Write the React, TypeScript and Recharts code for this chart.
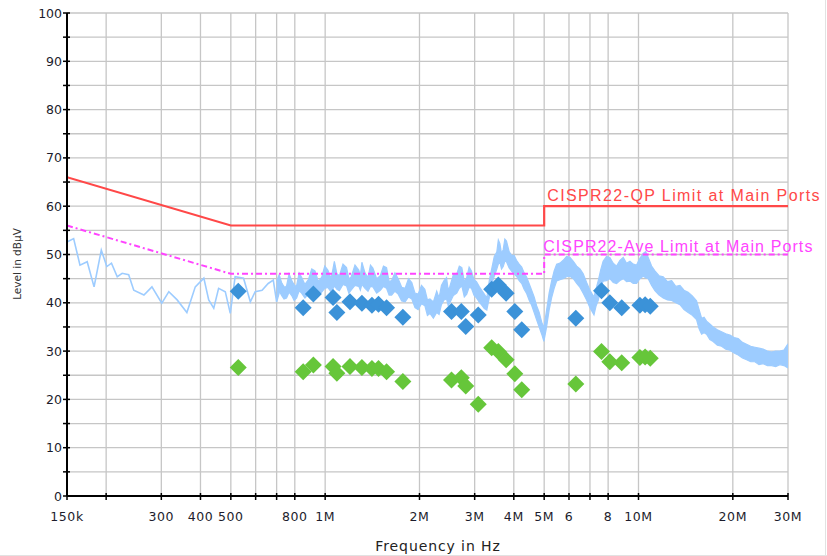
import React from 'react';
import { ComposedChart, XAxis, YAxis, CartesianGrid, Line, Area, Scatter, LabelList } from 'recharts';

// Axis ticks
const xTickValues = [150000, 200000, 300000, 400000, 500000, 600000, 700000, 800000, 1000000, 2000000, 3000000, 4000000, 5000000, 6000000, 7000000, 8000000, 10000000, 20000000, 30000000];
const xTickLabels = ['150k', '', '300', '400', '500', '', '', '800', '1M', '2M', '3M', '4M', '5M', '6', '', '8', '10M', '20M', '30M'];
const yTickValues = [0, 5, 10, 15, 20, 25, 30, 35, 40, 45, 50, 55, 60, 65, 70, 75, 80, 85, 90, 95, 100];
const yTickLabels = ['0', '', '10', '', '20', '', '30', '', '40', '', '50', '', '60', '', '70', '', '80', '', '90', '', '100'];

// Limit lines
const limitFreqs = [150000, 500000, 5000000, 5000000, 30000000];
const qpLimit = [66, 56, 56, 60, 60];
const aveLimit = [56, 46, 46, 50, 50];
const qpLimitName = 'CISPR22-QP Limit at Main Ports';
const aveLimitName = 'CISPR22-Ave Limit at Main Ports';

// Final measurements
const measFreqs = [528000, 851000, 917000, 1060000, 1090000, 1200000, 1310000, 1410000, 1480000, 1570000, 1770000, 2530000, 2720000, 2810000, 3080000, 3400000, 3570000, 3780000, 4030000, 4240000, 6310000, 7620000, 8100000, 8840000, 10100000, 10500000, 10900000];
const qpMeas = [42.4, 39.0, 41.8, 41.1, 38.0, 40.2, 39.9, 39.5, 39.7, 39.0, 37.0, 38.2, 38.2, 35.1, 37.5, 42.8, 43.7, 42.0, 38.2, 34.4, 36.8, 42.5, 40.0, 39.0, 39.5, 39.6, 39.3];
const avMeas = [26.6, 25.7, 27.1, 26.8, 25.4, 26.8, 26.6, 26.4, 26.4, 25.7, 23.7, 24.0, 24.5, 22.8, 19.0, 30.7, 29.9, 28.2, 25.3, 22.0, 23.2, 29.9, 27.8, 27.6, 28.7, 28.8, 28.5];

// Preview scan, low-frequency part (line)
const traceFreqs = [150000, 157500, 165000, 174000, 183000, 193000, 201000, 208000, 217000, 225000, 236000, 245000, 264000, 280000, 301000, 317000, 337000, 362000, 385000, 410000, 425000, 441000, 457000, 480000, 498000, 516000, 549000, 577000, 598000, 629000, 658000, 683000, 700000, 726000, 753000, 782000, 811000];
const traceLevels = [52.6, 53.3, 47.8, 48.5, 43.3, 50.9, 47.5, 48.2, 45.4, 46.1, 45.8, 42.6, 41.6, 43.3, 39.9, 42.3, 40.6, 38.0, 43.3, 45.1, 40.6, 38.9, 43.0, 42.3, 37.8, 45.4, 45.1, 40.2, 42.3, 42.6, 44.0, 44.7, 40.2, 44.0, 42.6, 44.4, 43.0];

// Preview scan, dense part (envelope of the noise band)
const bandFreqs = [700000, 713000, 726000, 739000, 753000, 767000, 782000, 796000, 811000, 826000, 841000, 862000, 884000, 906000, 928000, 951000, 975000, 997000, 1020000, 1045000, 1070000, 1090000, 1110000, 1140000, 1170000, 1190000, 1210000, 1245000, 1280000, 1295000, 1310000, 1340000, 1370000, 1395000, 1420000, 1460000, 1500000, 1535000, 1570000, 1600000, 1630000, 1670000, 1710000, 1755000, 1800000, 1845000, 1890000, 1935000, 1980000, 2030000, 2080000, 2120000, 2160000, 2215000, 2270000, 2310000, 2350000, 2395000, 2440000, 2470000, 2500000, 2565000, 2630000, 2680000, 2730000, 2780000, 2830000, 2880000, 2930000, 2985000, 3040000, 3100000, 3160000, 3220000, 3280000, 3340000, 3400000, 3465000, 3530000, 3570000, 3610000, 3655000, 3700000, 3745000, 3790000, 3865000, 3940000, 4010000, 4080000, 4160000, 4240000, 4315000, 4390000, 4475000, 4560000, 4645000, 4730000, 4820000, 4910000, 4990000, 5090000, 5185000, 5280000, 5380000, 5480000, 5615000, 5750000, 5895000, 6040000, 6195000, 6350000, 6505000, 6660000, 6830000, 7000000, 7210000, 7325000, 7440000, 7575000, 7710000, 7905000, 8100000, 8305000, 8510000, 8725000, 8940000, 9160000, 9390000, 9620000, 9860000, 10100000, 10350000, 10540000, 10740000, 11010000, 11280000, 11630000, 11990000, 12370000, 12760000, 13150000, 13560000, 13970000, 14400000, 14850000, 15320000, 15610000, 15900000, 16190000, 16490000, 16890000, 17310000, 17850000, 18410000, 18990000, 19580000, 20190000, 20810000, 21460000, 22130000, 22810000, 23520000, 24240000, 24990000, 25780000, 26590000, 27410000, 28260000, 29120000, 30000000];
const bandLow = [40.5, 42.5, 41.5, 40.8, 41.0, 42.2, 41.5, 40.5, 41.0, 42.5, 42.0, 41.0, 41.8, 42.6, 43.0, 41.6, 42.2, 43.0, 43.2, 42.2, 43.5, 42.8, 42.5, 43.8, 43.5, 42.0, 42.6, 43.6, 43.4, 42.6, 43.8, 43.0, 42.4, 43.4, 43.3, 42.0, 42.6, 43.4, 43.0, 41.6, 41.6, 42.4, 41.8, 40.4, 40.2, 41.2, 40.8, 39.0, 38.6, 39.8, 39.4, 37.4, 37.8, 36.8, 38.0, 37.6, 39.6, 40.6, 40.8, 39.4, 40.0, 41.5, 42.0, 43.0, 43.5, 41.2, 41.8, 43.2, 43.0, 41.6, 41.0, 40.2, 39.5, 38.8, 38.5, 41.0, 44.0, 45.5, 47.0, 48.0, 48.5, 47.0, 47.5, 48.6, 48.5, 47.2, 46.5, 46.0, 45.5, 44.6, 44.0, 42.8, 42.0, 40.6, 39.5, 38.0, 36.5, 35.0, 33.5, 32.0, 35.0, 38.5, 41.0, 43.0, 44.5, 44.8, 45.0, 45.4, 45.5, 45.0, 44.0, 43.2, 42.0, 40.6, 39.0, 37.5, 39.4, 40.5, 43.0, 44.5, 44.6, 45.0, 44.2, 44.0, 44.6, 45.0, 44.4, 44.5, 44.0, 44.0, 45.0, 45.5, 45.2, 45.0, 43.6, 42.5, 41.6, 41.0, 40.6, 40.5, 40.0, 39.6, 38.6, 38.0, 37.4, 36.5, 34.6, 33.5, 33.8, 33.5, 32.4, 32.0, 31.2, 31.0, 30.4, 30.2, 29.6, 29.2, 28.6, 28.2, 27.8, 27.8, 27.2, 27.4, 27.0, 27.0, 26.8, 27.2, 27.0, 26.5];
const bandHigh = [44.5, 45.8, 44.2, 43.0, 43.5, 46.0, 44.6, 43.2, 43.6, 46.2, 45.3, 43.8, 44.8, 47.0, 46.6, 44.4, 45.3, 47.6, 46.8, 45.0, 48.6, 46.0, 45.6, 48.0, 47.3, 45.0, 45.3, 47.8, 46.8, 45.6, 48.4, 46.2, 45.2, 47.8, 47.2, 45.0, 45.6, 47.6, 47.3, 44.4, 44.6, 46.2, 45.0, 43.2, 43.0, 45.0, 44.2, 42.0, 41.8, 43.6, 42.8, 40.6, 40.8, 40.2, 42.4, 41.0, 43.6, 44.6, 45.2, 42.6, 43.4, 45.8, 46.0, 47.6, 47.3, 44.4, 45.2, 47.4, 46.6, 44.8, 44.4, 43.4, 42.6, 41.8, 41.0, 44.6, 47.0, 49.6, 50.5, 53.0, 52.3, 50.2, 51.0, 53.2, 52.8, 50.6, 49.8, 49.8, 48.8, 48.0, 47.4, 46.2, 45.4, 44.0, 42.6, 41.2, 39.4, 38.0, 36.0, 34.8, 38.5, 42.0, 44.5, 46.6, 48.0, 48.2, 48.8, 49.6, 49.4, 48.6, 47.6, 47.0, 46.0, 44.2, 42.6, 41.2, 43.0, 44.6, 46.8, 48.6, 49.6, 49.4, 48.2, 47.6, 48.8, 49.4, 48.2, 48.6, 48.0, 47.8, 49.2, 50.2, 50.6, 49.4, 47.6, 46.6, 45.6, 45.4, 44.4, 44.6, 43.4, 43.6, 42.6, 42.2, 41.4, 40.4, 38.6, 36.8, 37.0, 36.2, 35.6, 35.0, 34.4, 34.0, 33.6, 33.3, 32.8, 32.6, 31.8, 31.4, 31.0, 30.8, 30.6, 30.4, 30.0, 29.8, 30.0, 30.0, 30.2, 31.5];

const traceData = traceFreqs.map((f, i) => ({ f, v: traceLevels[i] }));
const bandData = bandFreqs.map((f, i) => ({ f, r: [bandLow[i], bandHigh[i]] }));
const qpLimitData = limitFreqs.map((f, i) => ({ f, v: qpLimit[i] }));
const aveLimitData = limitFreqs.map((f, i) => ({ f, v: aveLimit[i] }));
const qpMeasData = measFreqs.map((f, i) => ({ f, v: qpMeas[i] }));
const avMeasData = measFreqs.map((f, i) => ({ f, v: avMeas[i] }));

const TICK_FONT = 'DejaVu Sans, Verdana, sans-serif';

const XTick = (props: any) => {
  const { x, y, payload } = props;
  const idx = xTickValues.indexOf(payload.value);
  const label = idx >= 0 ? xTickLabels[idx] : '';
  return (
    <g>
      <line x1={x} x2={x} y1={y - 3} y2={y + 4} stroke="#000" strokeWidth={1.5} />
      {label ? (
        <text x={x} y={y + 25} textAnchor="middle" fontSize={12.5} fontFamily={TICK_FONT} fill="#1c1c2c" letterSpacing={0.6}>
          {label}
        </text>
      ) : null}
    </g>
  );
};

const YTick = (props: any) => {
  const { x, y, payload } = props;
  const idx = yTickValues.indexOf(payload.value);
  const label = idx >= 0 ? yTickLabels[idx] : '';
  return (
    <g>
      <line x1={x - 4} x2={x + 3} y1={y} y2={y} stroke="#000" strokeWidth={1.5} />
      {label ? (
        <text x={x - 5} y={y + 4.5} textAnchor="end" fontSize={12.5} fontFamily={TICK_FONT} fill="#1c1c2c">
          {label}
        </text>
      ) : null}
    </g>
  );
};

const YLabel = () => (
  <text x={21} y={264} transform="rotate(-90 21 264)" textAnchor="middle" fontSize={10.5} fontFamily={TICK_FONT} fill="#333">
    Level in dBµV
  </text>
);

const XLabel = () => (
  <text x={438} y={551} textAnchor="middle" fontSize={14} fontFamily={TICK_FONT} fill="#222" letterSpacing={0.9}>
    Frequency in Hz
  </text>
);

const makeLimitLabel = (text: string, color: string, dx: number, dy: number, ls: number) => (props: any) => {
  const { x, y, index } = props;
  if (index !== 3) return null;
  return (
    <text x={x + dx} y={y + dy} fontSize={16} fontFamily="Liberation Sans, Arial, sans-serif" fill={color} letterSpacing={ls}>
      {text}
    </text>
  );
};

const Diamond = (color: string) => (props: any) => {
  const { cx, cy } = props;
  if (cx == null || cy == null) return null;
  const s = 8.5;
  return <path d={`M${cx},${cy - s}L${cx + s},${cy}L${cx},${cy + s}L${cx - s},${cy}Z`} fill={color} />;
};

export default function App() {
  return (
    <div style={{ position: 'absolute', left: 0, top: 0, width: 827, height: 556, background: '#fff' }}>
      <ComposedChart width={827} height={556} margin={{ top: 13, right: 39, bottom: 0, left: 0 }}>
        <CartesianGrid stroke="#c6c6c6" strokeWidth={1.3} />
        <XAxis
          dataKey="f"
          type="number"
          scale="log"
          domain={[150000, 30000000]}
          allowDataOverflow
          ticks={xTickValues}
          interval={0}
          height={60}
          tickSize={0}
          tickMargin={0}
          tickLine={false}
          tick={<XTick />}
          axisLine={{ stroke: '#000', strokeWidth: 2 }}
          label={<XLabel />}
        />
        <YAxis
          type="number"
          domain={[0, 100]}
          ticks={yTickValues}
          interval={0}
          width={67}
          tickSize={0}
          tickMargin={0}
          tickLine={false}
          tick={<YTick />}
          axisLine={{ stroke: '#000', strokeWidth: 2 }}
          label={<YLabel />}
        />
        <Area
          data={bandData}
          dataKey="r"
          type="linear"
          stroke="#9dccff"
          strokeWidth={1.2}
          fill="#9dccff"
          fillOpacity={1}
          isAnimationActive={false}
          dot={false}
          activeDot={false}
        />
        <Line
          data={traceData}
          dataKey="v"
          type="linear"
          stroke="#9dccff"
          strokeWidth={1.6}
          dot={false}
          activeDot={false}
          isAnimationActive={false}
        />
        <Line
          data={aveLimitData}
          dataKey="v"
          type="linear"
          stroke="#ff44ff"
          strokeWidth={2}
          strokeDasharray="6 3 2 3"
          dot={false}
          activeDot={false}
          isAnimationActive={false}
        >
          <LabelList dataKey="v" content={makeLimitLabel(aveLimitName, '#ff44ff', -1, -3, 1.1)} />
        </Line>
        <Line
          data={qpLimitData}
          dataKey="v"
          type="linear"
          stroke="#ff4848"
          strokeWidth={2.2}
          dot={false}
          activeDot={false}
          isAnimationActive={false}
        >
          <LabelList dataKey="v" content={makeLimitLabel(qpLimitName, '#ff4848', 3, -5, 1.4)} />
        </Line>
        <Scatter data={qpMeasData} dataKey="v" shape={Diamond('#3b92d8')} isAnimationActive={false} />
        <Scatter data={avMeasData} dataKey="v" shape={Diamond('#66c63a')} isAnimationActive={false} />
      </ComposedChart>
      <div style={{ position: 'absolute', left: 825, top: 0, width: 1, height: 556, background: '#e2e2e2' }} />
      <div style={{ position: 'absolute', left: 0, top: 555, width: 827, height: 1, background: '#e2e2e2' }} />
    </div>
  );
}
